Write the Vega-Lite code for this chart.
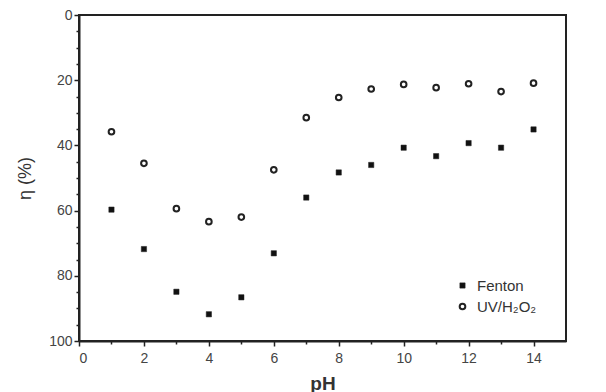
{
  "$schema": "https://vega.github.io/schema/vega-lite/v6.json",
  "autosize": {"type": "none"},
  "padding": {"left": 79, "top": 15, "right": 40, "bottom": 51},
  "width": 487,
  "height": 326,
  "background": "white",
  "config": {
    "font": "Liberation Sans",
    "view": {"stroke": "#222", "strokeWidth": 2},
    "axis": {"grid": false, "domainColor": "#222", "domainWidth": 2, "tickColor": "#222", "tickWidth": 1.5, "labelColor": "#444", "labelFontSize": 14, "titleColor": "#333"},
    "legend": {"title": null, "orient": "none", "legendX": 376, "legendY": 263, "labelFontSize": 15, "labelColor": "#333", "symbolStrokeWidth": 2, "rowPadding": 5, "labelOffset": 7}
  },
  "data": {"values": [
    {"pH": 1, "eta": 59.7, "series": "Fenton"},
    {"pH": 2, "eta": 71.8, "series": "Fenton"},
    {"pH": 3, "eta": 84.9, "series": "Fenton"},
    {"pH": 4, "eta": 91.8, "series": "Fenton"},
    {"pH": 5, "eta": 86.6, "series": "Fenton"},
    {"pH": 6, "eta": 73.1, "series": "Fenton"},
    {"pH": 7, "eta": 56.0, "series": "Fenton"},
    {"pH": 8, "eta": 48.3, "series": "Fenton"},
    {"pH": 9, "eta": 46.0, "series": "Fenton"},
    {"pH": 10, "eta": 40.7, "series": "Fenton"},
    {"pH": 11, "eta": 43.3, "series": "Fenton"},
    {"pH": 12, "eta": 39.3, "series": "Fenton"},
    {"pH": 13, "eta": 40.7, "series": "Fenton"},
    {"pH": 14, "eta": 35.1, "series": "Fenton"},
    {"pH": 1, "eta": 35.8, "series": "UV/H₂O₂"},
    {"pH": 2, "eta": 45.5, "series": "UV/H₂O₂"},
    {"pH": 3, "eta": 59.4, "series": "UV/H₂O₂"},
    {"pH": 4, "eta": 63.4, "series": "UV/H₂O₂"},
    {"pH": 5, "eta": 62.0, "series": "UV/H₂O₂"},
    {"pH": 6, "eta": 47.5, "series": "UV/H₂O₂"},
    {"pH": 7, "eta": 31.5, "series": "UV/H₂O₂"},
    {"pH": 8, "eta": 25.3, "series": "UV/H₂O₂"},
    {"pH": 9, "eta": 22.7, "series": "UV/H₂O₂"},
    {"pH": 10, "eta": 21.3, "series": "UV/H₂O₂"},
    {"pH": 11, "eta": 22.3, "series": "UV/H₂O₂"},
    {"pH": 12, "eta": 21.1, "series": "UV/H₂O₂"},
    {"pH": 13, "eta": 23.5, "series": "UV/H₂O₂"},
    {"pH": 14, "eta": 20.9, "series": "UV/H₂O₂"}
  ]},
  "layer": [
    {
      "mark": {"type": "point", "opacity": 1, "stroke": "#222"},
      "encoding": {
        "x": {"field": "pH", "type": "quantitative", "scale": {"domain": [0, 15], "nice": false},
          "axis": {"values": [0, 2, 4, 6, 8, 10, 12, 14], "tickSize": 5, "labelPadding": 5, "title": "pH", "titleFontSize": 19, "titleFontWeight": "bold", "titlePadding": 9}},
        "y": {"field": "eta", "type": "quantitative", "scale": {"domain": [0, 100], "reverse": true, "nice": false},
          "axis": {"values": [0, 20, 40, 60, 80, 100], "tickSize": 5, "labelPadding": 2, "title": "η (%)", "titleFontSize": 18, "titleFontWeight": "normal", "titlePadding": 14}},
        "shape": {"field": "series", "type": "nominal", "scale": {"domain": ["Fenton", "UV/H₂O₂"], "range": ["square", "circle"]}},
        "fill": {"field": "series", "type": "nominal", "scale": {"domain": ["Fenton", "UV/H₂O₂"], "range": ["#111", "white"]}},
        "size": {"field": "series", "type": "nominal", "scale": {"domain": ["Fenton", "UV/H₂O₂"], "range": [28, 32]}},
        "strokeWidth": {"field": "series", "type": "nominal", "scale": {"domain": ["Fenton", "UV/H₂O₂"], "range": [0.5, 2]}}
      }
    },
    {
      "mark": {"type": "point", "opacity": 0},
      "encoding": {
        "x": {"field": "pH", "type": "quantitative", "axis": {"orient": "bottom", "values": [1, 3, 5, 7, 9, 11, 13], "labels": false, "tickSize": 3, "title": null, "domain": false}},
        "y": {"field": "eta", "type": "quantitative", "axis": {"orient": "left", "values": [5, 10, 15, 25, 30, 35, 45, 50, 55, 65, 70, 75, 85, 90, 95], "labels": false, "tickSize": 3, "title": null, "domain": false}}
      }
    }
  ],
  "resolve": {"axis": {"x": "independent", "y": "independent"}}
}
